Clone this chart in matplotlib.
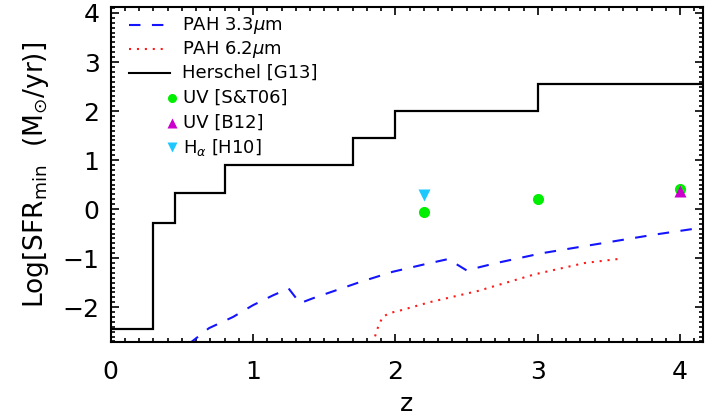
import matplotlib
matplotlib.use("Agg")
import matplotlib.pyplot as plt
from matplotlib.ticker import MultipleLocator

# PAH 3.3um detection limit curve
pah33_z = [0.55, 0.69, 0.86, 1.0, 1.14, 1.25, 1.33, 1.42, 1.61, 1.75, 1.98,
           2.2, 2.37, 2.5, 2.71, 3.03, 3.3, 3.55, 3.8, 4.15]
pah33_sfr = [-2.75, -2.43, -2.2, -1.96, -1.76, -1.62, -1.92, -1.82, -1.63, -1.49, -1.28,
             -1.13, -1.02, -1.25, -1.1, -0.9, -0.77, -0.65, -0.53, -0.38]

# PAH 6.2um detection limit curve
pah62_z = [1.84, 1.88, 1.91, 1.96, 2.02, 2.24, 2.58, 2.98, 3.33, 3.56]
pah62_sfr = [-2.75, -2.39, -2.2, -2.12, -2.08, -1.9, -1.67, -1.33, -1.1, -1.02]

# Herschel [G13] step function
hers_edges = [0.0, 0.3, 0.45, 0.8, 1.7, 2.0, 3.0, 4.2]
hers_sfr = [-2.44, -0.28, 0.33, 0.89, 1.46, 2.0, 2.55]

# UV / H-alpha points
st06_z, st06_sfr = [2.2, 3.0, 4.0], [-0.05, 0.2, 0.41]
b12_z, b12_sfr = [4.0], [0.37]
h10_z, h10_sfr = [2.2], [0.29]

c_blue = "#1414ff"
c_red = "#ff1a1a"
c_green = "#00ee00"
c_mag = "#cc00cc"
c_cyan = "#1ec8ff"

fig = plt.figure(figsize=(7.05, 4.18), dpi=100)
ax = fig.add_axes([0.157, 0.182, 0.840, 0.801])

ax.plot(pah33_z, pah33_sfr, color=c_blue, lw=1.5, dashes=(5.5, 5.5))
ax.plot(pah62_z, pah62_sfr, color=c_red, lw=1.5, dashes=(1, 2.8))
ax.stairs(hers_sfr, hers_edges, color="black", lw=1.6, baseline=None)
ax.plot(st06_z, st06_sfr, "o", color=c_green, ms=8, mec="none")
ax.plot(b12_z, b12_sfr, "^", color=c_mag, ms=8, mec="none")
ax.plot(h10_z, h10_sfr, "v", color=c_cyan, ms=8, mec="none")

ax.set_xlim(0, 4.16)
ax.set_ylim(-2.71, 4.12)
ax.xaxis.set_major_locator(MultipleLocator(1))
ax.xaxis.set_minor_locator(MultipleLocator(0.1))
ax.yaxis.set_major_locator(MultipleLocator(1))
ax.yaxis.set_minor_locator(MultipleLocator(0.1))
ax.tick_params(which="both", direction="in", top=True, right=True, width=1.2)
ax.tick_params(which="major", length=6)
ax.tick_params(which="minor", length=3)
ax.tick_params(axis="x", labelsize=18, pad=13)
ax.tick_params(axis="y", labelsize=18, pad=8)
for s in ax.spines.values():
    s.set_linewidth(1.5)

ax.set_xlabel("z", fontsize=18, labelpad=6)
ax.set_ylabel(r"Log$\left[\mathrm{SFR_{min}}\ \ (\mathrm{M_{\odot}/yr})\right]$",
              fontsize=19, labelpad=8)

# hand-placed legend (IDL style)
tr = ax.transAxes
fx = lambda px: (px - 111) / 592.0
fy = lambda py: 1 - (py - 7) / 335.0
leg_fs = 13
ax.plot([fx(129), fx(166)], [fy(25)] * 2, transform=tr, color=c_blue, lw=1.5, dashes=(5.5, 5.5))
ax.text(fx(182), fy(25), r"PAH 3.3$\mu$m", transform=tr, fontsize=leg_fs, va="center")
ax.plot([fx(129), fx(166)], [fy(49)] * 2, transform=tr, color=c_red, lw=1.5, dashes=(1, 2.8))
ax.text(fx(182), fy(49), r"PAH 6.2$\mu$m", transform=tr, fontsize=leg_fs, va="center")
ax.plot([fx(129), fx(170)], [fy(73)] * 2, transform=tr, color="black", lw=1.5)
ax.text(fx(182), fy(73), "Herschel [G13]", transform=tr, fontsize=leg_fs, va="center")
ax.plot(fx(172), fy(98), "o", transform=tr, color=c_green, ms=6.5, mec="none")
ax.text(fx(183), fy(98), "UV [S&T06]", transform=tr, fontsize=leg_fs, va="center")
ax.plot(fx(172), fy(123), "^", transform=tr, color=c_mag, ms=6.5, mec="none")
ax.text(fx(183), fy(123), "UV [B12]", transform=tr, fontsize=leg_fs, va="center")
ax.plot(fx(172), fy(147), "v", transform=tr, color=c_cyan, ms=6.5, mec="none")
ax.text(fx(183), fy(147), r"H$_{\alpha}$ [H10]", transform=tr, fontsize=leg_fs, va="center")

fig.savefig("out.png", dpi=100)
